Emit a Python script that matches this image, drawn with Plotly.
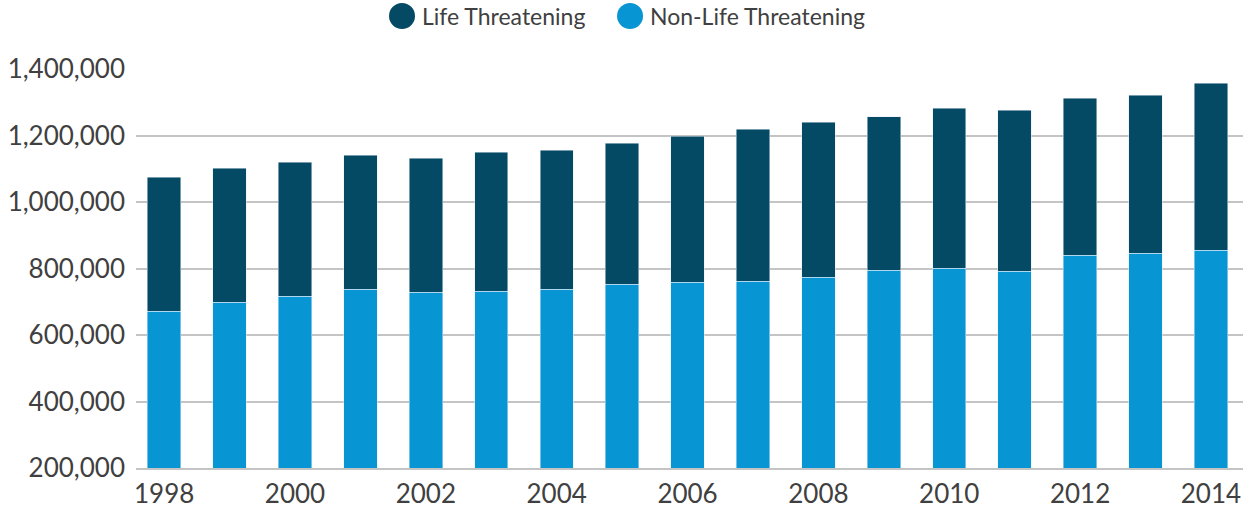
"""Stacked bar chart: life threatening vs non-life threatening calls, 1998-2014."""

import plotly.graph_objects as go

YEARS = list(range(1998, 2015))
NON_LIFE = [
    672000, 699000, 717000, 738000, 729000, 732000, 738000, 753000, 759000,
    762000, 774000, 795000, 801000, 792000, 841000, 847000, 856000,
]
TOTAL = [
    1075000, 1102000, 1120000, 1141000, 1132000, 1150000, 1156000, 1177000,
    1198000, 1219000, 1240000, 1258000, 1283000, 1277000, 1313000, 1322000,
    1358000,
]
LIFE = [t - n for t, n in zip(TOTAL, NON_LIFE)]
LEGEND_LABELS = ["Life Threatening", "Non-Life Threatening"]

DARK = "#054a65"
LIGHT = "#0795d4"
TEXT = "#404040"
GRID = "#c4c4c4"
FONT = "Lato, 'Open Sans', sans-serif"

# legend placement (paper coords of plot area: x 136..1243, y 69..468 px)
_LEGEND_Y = 1.133
_LEGEND_DOT_X = (0.2403, 0.4463)
_LEGEND_TEXT_X = (0.2566, 0.4625)
_DOT_R = 13

fig = go.Figure()
fig.add_trace(
    go.Bar(x=YEARS, y=NON_LIFE, marker_color=LIGHT, width=0.51,
           name=LEGEND_LABELS[1], showlegend=False)
)
fig.add_trace(
    go.Bar(x=YEARS, y=LIFE, marker_color=DARK, width=0.51,
           name=LEGEND_LABELS[0], showlegend=False)
)

shapes = [
    # the 600,000 gridline is pink in the source
    {
        "type": "line", "xref": "paper", "yref": "y", "x0": 0, "x1": 1,
        "y0": 600000, "y1": 600000, "layer": "between",
        "line": {"color": "#f4d0d0", "width": 2},
    }
]
annotations = []
for label, color, dot_x, text_x in zip(
    LEGEND_LABELS, (DARK, LIGHT), _LEGEND_DOT_X, _LEGEND_TEXT_X
):
    shapes.append({
        "type": "circle", "xref": "paper", "yref": "paper",
        "xsizemode": "pixel", "ysizemode": "pixel",
        "xanchor": dot_x, "yanchor": _LEGEND_Y,
        "x0": -_DOT_R, "x1": _DOT_R, "y0": -_DOT_R, "y1": _DOT_R,
        "fillcolor": color, "line": {"width": 0},
    })
    annotations.append({
        "text": label, "xref": "paper", "yref": "paper",
        "x": text_x, "y": _LEGEND_Y, "xanchor": "left", "yanchor": "middle",
        "showarrow": False, "font": {"size": 23, "color": TEXT},
    })

fig.update_layout(
    width=1243,
    height=508,
    barmode="stack",
    paper_bgcolor="white",
    plot_bgcolor="white",
    font={"family": FONT, "color": TEXT, "size": 26},
    margin=dict(l=136, r=0, t=69, b=40, autoexpand=False),
    showlegend=False,
    shapes=shapes,
    annotations=annotations,
    xaxis={
        "range": [1997.57, 2014.49],
        "tickmode": "linear",
        "tick0": 1998,
        "dtick": 2,
        "showgrid": False,
        "showline": True,
        "linecolor": GRID,
        "linewidth": 2,
        "ticks": "",
        "automargin": False,
        "ticklabelstandoff": 2,
        "tickfont": {"size": 26, "color": TEXT},
    },
    yaxis={
        "range": [200000, 1401000],
        "tickvals": [200000, 400000, 600000, 800000, 1000000, 1200000, 1400000],
        "tickformat": ",d",
        "showgrid": True,
        "gridcolor": GRID,
        "gridwidth": 2,
        "zeroline": False,
        "ticks": "",
        "automargin": False,
        "ticklabelstandoff": 10,
        "tickfont": {"size": 26, "color": TEXT},
    },
)

fig.write_html(
    "out.html",
    config={"displayModeBar": False},
    post_script="document.body.style.margin='0';document.body.style.overflow='hidden';",
)
